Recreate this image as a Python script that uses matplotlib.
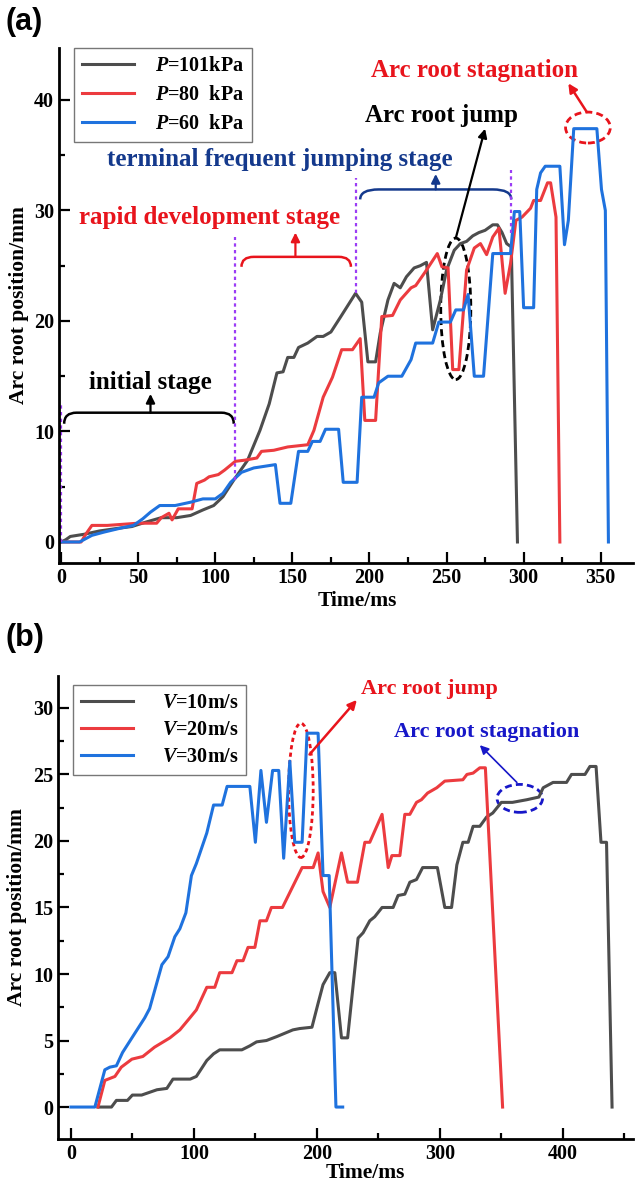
import matplotlib
matplotlib.use("Agg")
import matplotlib.pyplot as plt
from matplotlib.patches import Ellipse, PathPatch
from matplotlib.path import Path

plt.rcParams['font.family'] = ['Liberation Serif', 'DejaVu Serif']
plt.rcParams['font.weight'] = 'bold'
plt.rcParams['axes.labelweight'] = 'bold'
plt.rcParams['mathtext.fontset'] = 'custom'
plt.rcParams['mathtext.it'] = 'Liberation Serif:italic:bold'
plt.rcParams['mathtext.rm'] = 'Liberation Serif:bold'

# ---- panel (a): pressure ----
t101 = [0, 3, 6, 15, 25, 35, 46, 55, 65, 75, 84, 92, 99, 105, 112, 121, 129, 135, 140, 144,
        147, 151, 154, 160, 166, 170, 175, 181, 191, 195, 199, 204, 207, 212, 216, 220, 224, 229, 233, 237,
        241, 246, 250, 255, 259, 263, 267, 271, 275, 280, 283, 286, 289, 292, 296]
y101 = [0, 0.2, 0.5, 0.7, 1.0, 1.2, 1.4, 1.8, 2.2, 2.2, 2.4, 2.9, 3.3, 4.1, 5.6, 7.4, 10.1, 12.5, 15.3, 15.4,
        16.7, 16.7, 17.6, 18.0, 18.6, 18.6, 19.0, 20.3, 22.5, 21.7, 16.3, 16.3, 18.9, 21.9, 23.4, 23.0, 24.0, 24.8, 25.0, 25.3,
        19.2, 21.9, 24.6, 26.4, 27.0, 27.2, 27.7, 28.0, 28.2, 28.7, 28.7, 28.0, 27.0, 26.7, 0]

t80 = [0, 13, 16, 20, 30, 40, 50, 55, 62, 65, 70, 72, 76, 82, 85, 88, 93, 96, 102, 106,
       113, 119, 127, 130, 138, 147, 160, 164, 170, 176, 182, 189, 194, 197, 204, 208, 215, 220, 227, 230,
       236, 244, 247, 251, 254, 258, 263, 268, 272, 276, 280, 284, 288, 291.5, 295, 299, 304.5, 306.5, 311, 315.5,
       317.5, 321, 323.5]
y80 = [0, 0, 0.7, 1.5, 1.5, 1.6, 1.7, 1.7, 1.7, 2.2, 2.6, 2.0, 3.0, 3.0, 3.0, 5.3, 5.6, 5.9, 6.1, 6.5,
       7.3, 7.4, 7.6, 8.2, 8.3, 8.6, 8.8, 10.1, 13.1, 14.9, 17.4, 17.4, 18.4, 11.0, 11.0, 20.4, 20.5, 21.9, 23.0, 23.2,
       24.4, 26.1, 24.9, 24.8, 15.6, 15.6, 24.6, 26.6, 27.0, 26.0, 27.6, 28.4, 22.5, 25.2, 29.1, 29.4, 30.2, 30.9, 30.9, 32.5,
       32.5, 29.4, 0]

t60 = [0, 12, 20, 28, 40, 47, 53, 58, 64, 74, 84, 92, 100, 105, 110, 117, 125, 139, 142, 149,
       154, 160, 163, 168, 171.5, 180, 183, 192, 195, 203, 206, 209, 212, 221, 227, 230, 241, 245, 252.5, 256,
       261, 264, 268, 274, 280, 291.5, 294, 297.5, 300, 306.5, 308.5, 311, 314, 323.5, 326.5, 329, 332.5, 347.5, 350.5, 353,
       355]
y60 = [0, 0, 0.6, 0.9, 1.3, 1.5, 2.1, 2.7, 3.3, 3.3, 3.6, 3.9, 3.9, 4.4, 5.4, 6.3, 6.7, 7.0, 3.5, 3.5,
       8.2, 8.2, 9.1, 9.1, 10.2, 10.2, 5.4, 5.4, 13.1, 13.1, 14.4, 14.7, 15.0, 15.0, 16.5, 18.0, 18.0, 19.9, 19.9, 21.0,
       21.0, 22.4, 15.0, 15.0, 26.1, 26.1, 29.9, 29.9, 21.2, 21.2, 31.9, 33.4, 34.0, 34.0, 26.9, 29.1, 37.4, 37.4, 31.9, 30.0,
       0]

# ---- panel (b): velocity ----
t10 = [22, 33, 37, 46, 50, 57.5, 70, 78, 83, 97, 102, 110.5, 116, 121, 139, 145.5, 151, 159, 167.5, 180.5,
       186, 196, 201, 205, 210.5, 214.6, 220, 225, 233.5, 237.6, 243, 247, 253, 262, 266, 271.5, 275.6, 281, 286, 298,
       304, 309.5, 313.8, 318.7, 323, 327, 332.5, 338, 343, 350, 359, 370.7, 380.5, 384, 392, 403, 407, 418, 422, 427,
       431, 435.5, 440]
y10 = [0, 0, 0.5, 0.5, 0.9, 0.9, 1.3, 1.4, 2.1, 2.1, 2.3, 3.5, 4.0, 4.3, 4.3, 4.6, 4.9, 5.0, 5.3, 5.8,
       5.9, 6.0, 7.8, 9.2, 10.1, 10.1, 5.2, 5.2, 12.7, 13.1, 14.0, 14.3, 15.0, 15.0, 15.9, 16.0, 16.9, 17.1, 18.0, 18.0,
       15.0, 15.0, 18.2, 19.9, 19.9, 21.1, 21.1, 21.8, 22.1, 22.9, 22.9, 23.1, 23.3, 24.0, 24.4, 24.4, 25.0, 25.0, 25.6, 25.6,
       19.9, 19.9, 0]

t20 = [22, 27.6, 35.8, 41, 49.6, 58.5, 68, 80.5, 88.6, 96.7, 102, 110.5, 117, 121, 131, 135, 140, 144, 149.6, 153.7,
       159, 163, 172, 188, 193, 197, 201, 205, 210.5, 220, 225, 233, 239, 243, 253, 258, 261, 267.5, 271.5, 275.6,
       281, 285, 290, 297.5, 304, 318.7, 322, 327, 332.5, 337, 351]
y20 = [0, 2.0, 2.3, 3.0, 3.6, 3.8, 4.5, 5.2, 5.8, 6.7, 7.3, 9.0, 9.0, 10.1, 10.1, 11.0, 11.0, 12.0, 12.0, 14.0,
       14.0, 15.0, 15.0, 18.0, 18.0, 18.0, 19.1, 16.2, 15.0, 19.1, 16.9, 16.9, 19.9, 19.9, 22.0, 18.0, 18.9, 18.9, 22.0, 22.0,
       22.9, 23.1, 23.6, 24.0, 24.5, 24.6, 25.0, 25.1, 25.5, 25.5, 0]

t30 = [0, 19.5, 27.6, 31.7, 37, 42, 60, 64, 74, 79, 84.5, 88.6, 93.5, 98, 102, 110.5, 116, 123, 127, 145.5,
       150, 154.5, 159, 164, 169, 173, 178, 182, 188, 192, 201, 205, 210, 215.5, 221]
y30 = [0, 0, 2.8, 3.0, 3.1, 4.1, 6.7, 7.4, 10.7, 11.3, 12.8, 13.4, 14.6, 17.4, 18.3, 20.6, 22.7, 22.7, 24.1, 24.1,
       19.9, 25.3, 21.4, 25.3, 25.3, 18.7, 26.0, 19.9, 19.9, 28.1, 28.1, 17.4, 17.4, 0, 0]

c_black = '#4d4d4d'
c_red = '#ec3b3f'
c_blue = '#1f72de'
lw = 2.2

fig = plt.figure(figsize=(6.35, 11.82), dpi=100)
axa = fig.add_axes([0.093, 0.5237, 0.904, 0.4357])
axb = fig.add_axes([0.0913, 0.0364, 0.9055, 0.3917])


def style(ax, xlab_x, xlab_pad):
    for s in ['top', 'right']:
        ax.spines[s].set_visible(False)
    for s in ['left', 'bottom']:
        ax.spines[s].set_linewidth(2)
    ax.tick_params(which='both', direction='in', width=1.6, labelsize=14.5)
    ax.tick_params(which='major', length=8)
    ax.tick_params(which='minor', length=4)
    ax.set_xlabel('Time/ms', fontsize=15.5, labelpad=xlab_pad, x=xlab_x)
    ax.set_ylabel('Arc root position/mm', fontsize=15.5, labelpad=4)


def brace(ax, x0, x1, ytop, yend, r, color):
    verts = [(x0, yend), (x0, ytop), (x0 + r, ytop), (x1 - r, ytop), (x1, ytop), (x1, yend)]
    codes = [Path.MOVETO, Path.CURVE3, Path.CURVE3, Path.LINETO, Path.CURVE3, Path.CURVE3]
    ax.add_patch(PathPatch(Path(verts, codes), fill=False, ec=color, lw=1.8))


def arrow(ax, xy, xytext, color, lw=1.6):
    ax.annotate('', xy=xy, xytext=xytext,
                arrowprops=dict(arrowstyle='-|>', color=color, lw=lw, mutation_scale=13,
                                shrinkA=0, shrinkB=0))


# panel (a)
axa.plot(t101, y101, color=c_black, lw=lw, label='$P$=101kPa')
axa.plot(t80, y80, color=c_red, lw=lw, label='$P$=80  kPa')
axa.plot(t60, y60, color=c_blue, lw=lw, label='$P$=60  kPa')
axa.set_xlim(-1.3, 371)
axa.set_ylim(-1.9, 44.7)
axa.set_xticks([0, 50, 100, 150, 200, 250, 300, 350])
axa.set_xticks(range(25, 375, 50), minor=True)
axa.set_yticks([0, 10, 20, 30, 40])
axa.set_yticks([5, 15, 25, 35], minor=True)
style(axa, 0.52, 2.5)
leg = axa.legend(loc='upper left', bbox_to_anchor=(0.026, 1.0), borderaxespad=0, fontsize=14.5,
                 handlelength=2.6, handletextpad=1.0, labelspacing=0.45, fancybox=False,
                 edgecolor='#777777', framealpha=1)
leg.get_frame().set_linewidth(1.0)

purple = '#9b3df5'
for x, y0, y1 in [(0, 0, 12.7), (113, 5.6, 27.6), (191, 22.5, 32.9), (292, 28.0, 33.7)]:
    axa.plot([x, x], [y0, y1], color=purple, lw=1.6, ls=(0, (1.5, 1.5)))

brace(axa, 2, 112, 11.7, 10.7, 8, 'black')
arrow(axa, (58, 13.4), (58, 11.7), 'black')
axa.text(58, 14.4, 'initial stage', ha='center', va='center', fontsize=18, color='black')

brace(axa, 117, 188, 25.8, 24.9, 8, '#e8141c')
arrow(axa, (152, 28.0), (152, 25.8), '#e8141c')
axa.text(96, 29.4, 'rapid development stage', ha='center', va='center', fontsize=18, color='#e8141c')

brace(axa, 194, 292, 31.9, 31.0, 12, '#14398c')
arrow(axa, (243, 33.3), (243, 31.9), '#14398c')
axa.text(142, 34.6, 'terminal frequent jumping stage', ha='center', va='center', fontsize=18, color='#14398c')

axa.add_patch(Ellipse((256, 21.1), 19.5, 12.8, fill=False, ec='black', lw=2, ls=(0, (2.5, 1.5))))
arrow(axa, (275, 37.4), (256, 27.5), 'black', lw=1.6)
axa.text(247, 38.6, 'Arc root jump', ha='center', va='center', fontsize=18, color='black')

axa.add_patch(Ellipse((341.7, 37.5), 29, 2.8, fill=False, ec='#e8141c', lw=2, ls=(0, (2.5, 1.5))))
arrow(axa, (329, 41.5), (341, 38.9), '#e8141c', lw=1.8)
axa.text(268, 42.7, 'Arc root stagnation', ha='center', va='center', fontsize=18, color='#e8141c')

# panel (b)
axb.plot(t10, y10, color=c_black, lw=lw, label='$V$=10m/s')
axb.plot(t20, y20, color=c_red, lw=lw, label='$V$=20m/s')
axb.plot(t30, y30, color=c_blue, lw=lw, label='$V$=30m/s')
axb.set_xlim(-10.5, 457)
axb.set_ylim(-2.4, 32.4)
axb.set_xticks([0, 100, 200, 300, 400])
axb.set_xticks([50, 150, 250, 350, 450], minor=True)
axb.set_yticks([0, 5, 10, 15, 20, 25, 30])
axb.set_yticks([2.5, 7.5, 12.5, 17.5, 22.5, 27.5], minor=True)
style(axb, 0.535, -0.5)
leg = axb.legend(loc='upper left', bbox_to_anchor=(0.026, 0.98), borderaxespad=0, fontsize=14.5,
                 handlelength=2.6, handletextpad=1.4, labelspacing=0.35, fancybox=False,
                 edgecolor='#777777', framealpha=1)
leg.get_frame().set_linewidth(1.0)

axb.add_patch(Ellipse((187, 23.8), 20, 10.1, fill=False, ec='#e8141c', lw=2, ls=(0, (1.5, 1.2))))
arrow(axb, (232.5, 30.6), (194, 26.5), '#e8141c', lw=1.8)
axb.text(236, 31.4, 'Arc root jump', ha='left', va='center', fontsize=16, color='#e8141c')

axb.add_patch(Ellipse((365, 23.2), 37, 2.1, fill=False, ec='#1717c8', lw=2, ls=(0, (2.5, 1.5))))
arrow(axb, (332.5, 27.2), (362.6, 24.4), '#1717c8', lw=1.2)
axb.text(338, 28.2, 'Arc root stagnation', ha='center', va='center', fontsize=16, color='#1717c8')

fig.text(0.008, 0.981, '(a)', fontsize=22, fontweight='bold', family='Liberation Sans', va='center')
fig.text(0.008, 0.460, '(b)', fontsize=22, fontweight='bold', family='Liberation Sans', va='center')

fig.savefig('out.png', dpi=100)
